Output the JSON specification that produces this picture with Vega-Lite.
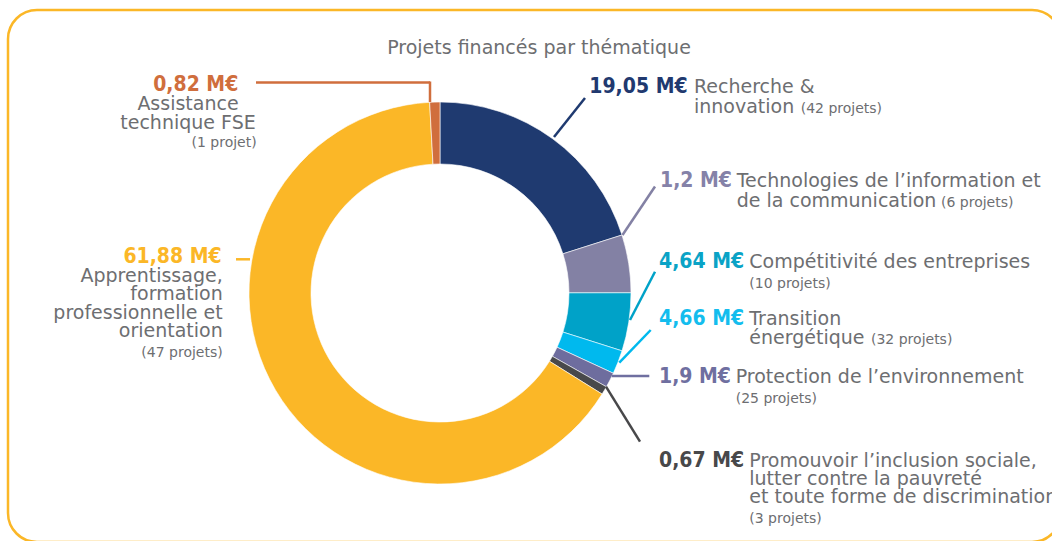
{
  "$schema": "https://vega.github.io/schema/vega-lite/v6.json",
  "autosize": "none",
  "width": 1053,
  "height": 532,
  "padding": {"left": 8, "top": 10, "right": 0, "bottom": 0},
  "background": "#ffffff",
  "config": {
    "view": {"stroke": "#FBB727", "strokeWidth": 2.5, "cornerRadius": 29},
    "text": {"font": "DejaVu Sans", "baseline": "alphabetic"}
  },
  "datasets": {
    "themes": [
      {"ordre": 1, "theme": "Recherche & innovation", "montant": 19.05, "libelle": "19,05 M€", "nom": ["Recherche &", "innovation"], "projets": "(42 projets)"},
      {"ordre": 2, "theme": "Compétitivité des entreprises", "montant": 4.64, "libelle": "4,64 M€", "nom": ["Compétitivité des entreprises"], "projets": "(10 projets)"},
      {"ordre": 3, "theme": "Transition énergétique", "montant": 4.66, "libelle": "4,66 M€", "nom": ["Transition", "énergétique"], "projets": "(32 projets)"},
      {"ordre": 4, "theme": "Protection de l’environnement", "montant": 1.9, "libelle": "1,9 M€", "nom": ["Protection de l’environnement"], "projets": "(25 projets)"},
      {"ordre": 5, "theme": "Technologies de l’information et de la communication", "montant": 1.2, "libelle": "1,2 M€", "nom": ["Technologies de l’information et", "de la communication"], "projets": "(6 projets)"},
      {"ordre": 6, "theme": "Promouvoir l’inclusion sociale, lutter contre la pauvreté et toute forme de discrimination", "montant": 0.67, "libelle": "0,67 M€", "nom": ["Promouvoir l’inclusion sociale,", "lutter contre la pauvreté", "et toute forme de discrimination"], "projets": "(3 projets)"},
      {"ordre": 7, "theme": "Apprentissage, formation professionnelle et orientation", "montant": 61.88, "libelle": "61,88 M€", "nom": ["Apprentissage,", "formation", "professionnelle et", "orientation"], "projets": "(47 projets)"},
      {"ordre": 8, "theme": "Assistance technique FSE", "montant": 0.82, "libelle": "0,82 M€", "nom": ["Assistance", "technique FSE"], "projets": "(1 projet)"}
    ]
  },
  "layer": [
    {
      "data": {"name": "themes"},
      "mark": {"type": "arc", "outerRadius": 191, "innerRadius": 129, "stroke": "#ffffff", "strokeWidth": 0.6},
      "encoding": {
        "x": {"datum": 0, "type": "quantitative", "scale": {"domain": [-432, 621], "nice": false, "zero": false}, "axis": null},
        "y": {"datum": 0, "type": "quantitative", "scale": {"domain": [-249, 283], "nice": false, "zero": false}, "axis": null},
        "theta": {"field": "montant", "type": "quantitative", "stack": true},
        "order": {"field": "ordre", "type": "quantitative"},
        "color": {"field": "ordre", "type": "ordinal", "legend": null,
          "scale": {"domain": [1, 2, 3, 4, 5, 6, 7, 8], "range": ["#1F3A70", "#8381A4", "#00A2C8", "#00B9EE", "#6E6D9E", "#48494B", "#FBB727", "#D06E3D"]}}
      }
    },
    {
      "data": {"values": [{"titre": "Projets financés par thématique"}]},
      "mark": {"type": "text", "align": "center", "fontSize": 19, "color": "#6D6E71"},
      "encoding": {"x": {"datum": 99, "axis": null}, "y": {"datum": 239, "axis": null}, "text": {"field": "titre"}}
    },

    {"data": {"values": [{}]}, "mark": {"type": "rule", "color": "#D06E3D", "strokeWidth": 2.5}, "encoding": {"x": {"datum": -184, "axis": null}, "x2": {"datum": -10}, "y": {"datum": 210.5, "axis": null}, "y2": {"datum": 210.5}}},
    {"data": {"values": [{}]}, "mark": {"type": "rule", "color": "#D06E3D", "strokeWidth": 2.5}, "encoding": {"x": {"datum": -10, "axis": null}, "x2": {"datum": -10}, "y": {"datum": 211.5, "axis": null}, "y2": {"datum": 191}}},
    {"data": {"values": [{}]}, "mark": {"type": "rule", "color": "#FBB727", "strokeWidth": 2.5}, "encoding": {"x": {"datum": -204, "axis": null}, "x2": {"datum": -190}, "y": {"datum": 33.7, "axis": null}, "y2": {"datum": 33.7}}},
    {"data": {"values": [{}]}, "mark": {"type": "rule", "color": "#1F3A70", "strokeWidth": 2.5}, "encoding": {"x": {"datum": 145, "axis": null}, "x2": {"datum": 114}, "y": {"datum": 195, "axis": null}, "y2": {"datum": 156}}},
    {"data": {"values": [{}]}, "mark": {"type": "rule", "color": "#8381A4", "strokeWidth": 2.5}, "encoding": {"x": {"datum": 215, "axis": null}, "x2": {"datum": 182.5}, "y": {"datum": 106.5, "axis": null}, "y2": {"datum": 58}}},
    {"data": {"values": [{}]}, "mark": {"type": "rule", "color": "#00A2C8", "strokeWidth": 2.5}, "encoding": {"x": {"datum": 215, "axis": null}, "x2": {"datum": 190}, "y": {"datum": 21.3, "axis": null}, "y2": {"datum": -27}}},
    {"data": {"values": [{}]}, "mark": {"type": "rule", "color": "#00B9EE", "strokeWidth": 2.5}, "encoding": {"x": {"datum": 210.7, "axis": null}, "x2": {"datum": 179.3}, "y": {"datum": -37, "axis": null}, "y2": {"datum": -69.7}}},
    {"data": {"values": [{}]}, "mark": {"type": "rule", "color": "#6F6FA0", "strokeWidth": 2.5}, "encoding": {"x": {"datum": 209.3, "axis": null}, "x2": {"datum": 171.7}, "y": {"datum": -83, "axis": null}, "y2": {"datum": -83}}},
    {"data": {"values": [{}]}, "mark": {"type": "rule", "color": "#48484A", "strokeWidth": 2.5}, "encoding": {"x": {"datum": 200, "axis": null}, "x2": {"datum": 166}, "y": {"datum": -148.7, "axis": null}, "y2": {"datum": -93.7}}},

    {"data": {"name": "themes"}, "transform": [{"filter": "datum.ordre == 8"}], "mark": {"type": "text", "align": "right", "font": "DejaVu Sans Condensed", "fontSize": 21, "fontWeight": "bold", "color": "#D06E3D"}, "encoding": {"x": {"datum": -201.7, "axis": null}, "y": {"datum": 202.3, "axis": null}, "text": {"field": "libelle"}}},
    {"data": {"name": "themes"}, "transform": [{"filter": "datum.ordre == 8"}], "mark": {"type": "text", "align": "center", "fontSize": 19, "lineHeight": 18.5, "color": "#6D6E71"}, "encoding": {"x": {"datum": -252, "axis": null}, "y": {"datum": 183, "axis": null}, "text": {"field": "nom"}}},
    {"data": {"name": "themes"}, "transform": [{"filter": "datum.ordre == 8"}], "mark": {"type": "text", "align": "right", "fontSize": 14, "color": "#6D6E71"}, "encoding": {"x": {"datum": -183.3, "axis": null}, "y": {"datum": 145.7, "axis": null}, "text": {"field": "projets"}}},

    {"data": {"name": "themes"}, "transform": [{"filter": "datum.ordre == 7"}], "mark": {"type": "text", "align": "right", "font": "DejaVu Sans Condensed", "fontSize": 21, "fontWeight": "bold", "color": "#FBB727"}, "encoding": {"x": {"datum": -218.3, "axis": null}, "y": {"datum": 29.7, "axis": null}, "text": {"field": "libelle"}}},
    {"data": {"name": "themes"}, "transform": [{"filter": "datum.ordre == 7"}], "mark": {"type": "text", "align": "right", "fontSize": 19, "lineHeight": 18.6, "color": "#6D6E71"}, "encoding": {"x": {"datum": -217.3, "axis": null}, "y": {"datum": 11.3, "axis": null}, "text": {"field": "nom"}}},
    {"data": {"name": "themes"}, "transform": [{"filter": "datum.ordre == 7"}], "mark": {"type": "text", "align": "right", "fontSize": 14, "color": "#6D6E71"}, "encoding": {"x": {"datum": -217.3, "axis": null}, "y": {"datum": -64.3, "axis": null}, "text": {"field": "projets"}}},

    {"data": {"name": "themes"}, "transform": [{"filter": "datum.ordre == 1"}], "mark": {"type": "text", "align": "left", "font": "DejaVu Sans Condensed", "fontSize": 21, "fontWeight": "bold", "color": "#21396F"}, "encoding": {"x": {"datum": 149.3, "axis": null}, "y": {"datum": 199.7, "axis": null}, "text": {"field": "libelle"}}},
    {"data": {"name": "themes"}, "transform": [{"filter": "datum.ordre == 1"}], "mark": {"type": "text", "align": "left", "fontSize": 19, "lineHeight": 20, "color": "#6D6E71"}, "encoding": {"x": {"datum": 254, "axis": null}, "y": {"datum": 199.7, "axis": null}, "text": {"field": "nom"}}},
    {"data": {"name": "themes"}, "transform": [{"filter": "datum.ordre == 1"}], "mark": {"type": "text", "align": "left", "fontSize": 14, "color": "#6D6E71"}, "encoding": {"x": {"datum": 360.7, "axis": null}, "y": {"datum": 179.7, "axis": null}, "text": {"field": "projets"}}},

    {"data": {"name": "themes"}, "transform": [{"filter": "datum.ordre == 5"}], "mark": {"type": "text", "align": "left", "font": "DejaVu Sans Condensed", "fontSize": 21, "fontWeight": "bold", "color": "#8582A8"}, "encoding": {"x": {"datum": 220, "axis": null}, "y": {"datum": 106.3, "axis": null}, "text": {"field": "libelle"}}},
    {"data": {"name": "themes"}, "transform": [{"filter": "datum.ordre == 5"}], "mark": {"type": "text", "align": "left", "fontSize": 19, "lineHeight": 20, "color": "#6D6E71"}, "encoding": {"x": {"datum": 296.7, "axis": null}, "y": {"datum": 106.3, "axis": null}, "text": {"field": "nom"}}},
    {"data": {"name": "themes"}, "transform": [{"filter": "datum.ordre == 5"}], "mark": {"type": "text", "align": "left", "fontSize": 14, "color": "#6D6E71"}, "encoding": {"x": {"datum": 501, "axis": null}, "y": {"datum": 86.3, "axis": null}, "text": {"field": "projets"}}},

    {"data": {"name": "themes"}, "transform": [{"filter": "datum.ordre == 2"}], "mark": {"type": "text", "align": "left", "font": "DejaVu Sans Condensed", "fontSize": 21, "fontWeight": "bold", "color": "#0AA3C6"}, "encoding": {"x": {"datum": 219, "axis": null}, "y": {"datum": 24.7, "axis": null}, "text": {"field": "libelle"}}},
    {"data": {"name": "themes"}, "transform": [{"filter": "datum.ordre == 2"}], "mark": {"type": "text", "align": "left", "fontSize": 19, "lineHeight": 20, "color": "#6D6E71"}, "encoding": {"x": {"datum": 309.3, "axis": null}, "y": {"datum": 25, "axis": null}, "text": {"field": "nom"}}},
    {"data": {"name": "themes"}, "transform": [{"filter": "datum.ordre == 2"}], "mark": {"type": "text", "align": "left", "fontSize": 14, "color": "#6D6E71"}, "encoding": {"x": {"datum": 309.3, "axis": null}, "y": {"datum": 4.7, "axis": null}, "text": {"field": "projets"}}},

    {"data": {"name": "themes"}, "transform": [{"filter": "datum.ordre == 3"}], "mark": {"type": "text", "align": "left", "font": "DejaVu Sans Condensed", "fontSize": 21, "fontWeight": "bold", "color": "#14BDEE"}, "encoding": {"x": {"datum": 219, "axis": null}, "y": {"datum": -32, "axis": null}, "text": {"field": "libelle"}}},
    {"data": {"name": "themes"}, "transform": [{"filter": "datum.ordre == 3"}], "mark": {"type": "text", "align": "left", "fontSize": 19, "lineHeight": 19, "color": "#6D6E71"}, "encoding": {"x": {"datum": 309.3, "axis": null}, "y": {"datum": -32, "axis": null}, "text": {"field": "nom"}}},
    {"data": {"name": "themes"}, "transform": [{"filter": "datum.ordre == 3"}], "mark": {"type": "text", "align": "left", "fontSize": 14, "color": "#6D6E71"}, "encoding": {"x": {"datum": 431, "axis": null}, "y": {"datum": -51, "axis": null}, "text": {"field": "projets"}}},

    {"data": {"name": "themes"}, "transform": [{"filter": "datum.ordre == 4"}], "mark": {"type": "text", "align": "left", "font": "DejaVu Sans Condensed", "fontSize": 21, "fontWeight": "bold", "color": "#6F6FA0"}, "encoding": {"x": {"datum": 219, "axis": null}, "y": {"datum": -90.3, "axis": null}, "text": {"field": "libelle"}}},
    {"data": {"name": "themes"}, "transform": [{"filter": "datum.ordre == 4"}], "mark": {"type": "text", "align": "left", "fontSize": 19, "lineHeight": 20, "color": "#6D6E71"}, "encoding": {"x": {"datum": 295.7, "axis": null}, "y": {"datum": -90, "axis": null}, "text": {"field": "nom"}}},
    {"data": {"name": "themes"}, "transform": [{"filter": "datum.ordre == 4"}], "mark": {"type": "text", "align": "left", "fontSize": 14, "color": "#6D6E71"}, "encoding": {"x": {"datum": 295.7, "axis": null}, "y": {"datum": -110.3, "axis": null}, "text": {"field": "projets"}}},

    {"data": {"name": "themes"}, "transform": [{"filter": "datum.ordre == 6"}], "mark": {"type": "text", "align": "left", "font": "DejaVu Sans Condensed", "fontSize": 21, "fontWeight": "bold", "color": "#48484A"}, "encoding": {"x": {"datum": 219, "axis": null}, "y": {"datum": -173.7, "axis": null}, "text": {"field": "libelle"}}},
    {"data": {"name": "themes"}, "transform": [{"filter": "datum.ordre == 6"}], "mark": {"type": "text", "align": "left", "fontSize": 19, "lineHeight": 18.3, "color": "#6D6E71"}, "encoding": {"x": {"datum": 309.3, "axis": null}, "y": {"datum": -173.7, "axis": null}, "text": {"field": "nom"}}},
    {"data": {"name": "themes"}, "transform": [{"filter": "datum.ordre == 6"}], "mark": {"type": "text", "align": "left", "fontSize": 14, "color": "#6D6E71"}, "encoding": {"x": {"datum": 309.3, "axis": null}, "y": {"datum": -230.3, "axis": null}, "text": {"field": "projets"}}}
  ]
}
